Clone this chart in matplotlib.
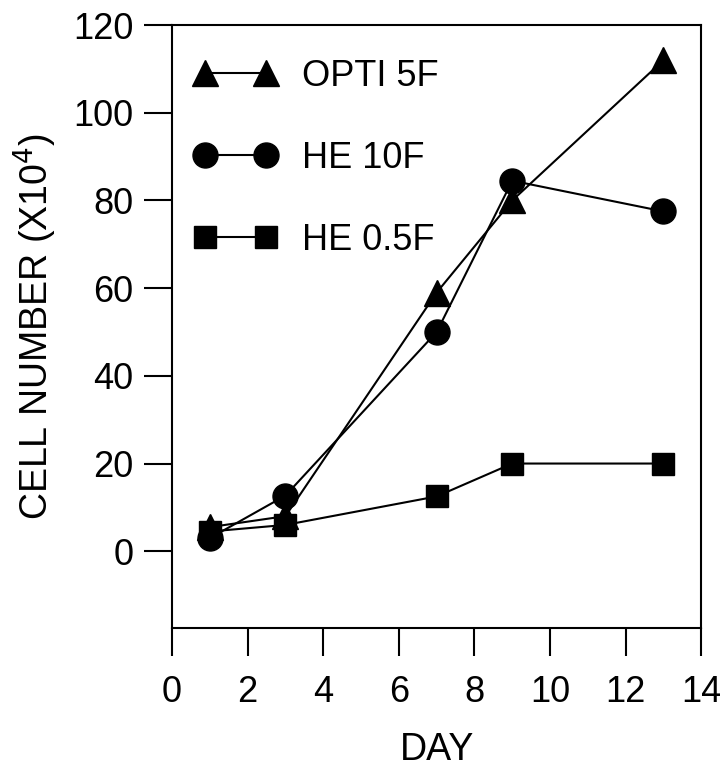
import matplotlib
matplotlib.use("Agg")
import matplotlib.pyplot as plt

days = [1, 3, 7, 9, 13]
opti_5f = [5.5, 8, 59, 80, 112]
he_10f = [3, 12.7, 50, 84.5, 77.5]
he_05f = [4.5, 6, 12.5, 20, 20]
labels = ["OPTI 5F", "HE 10F", "HE 0.5F"]
xticks = [0, 2, 4, 6, 8, 10, 12, 14]
yticks = [0, 20, 40, 60, 80, 100, 120]

plt.rcParams['font.family'] = ['Liberation Sans', 'DejaVu Sans']

fig = plt.figure(figsize=(7.2, 7.69), dpi=100)
ax = fig.add_axes([0.239, 0.1834, 0.735, 0.784])

lw = 1.5
ax.plot(days, opti_5f, marker='^', label=labels[0], color='black', lw=lw, markersize=19)
ax.plot(days, he_10f, marker='o', label=labels[1], color='black', lw=lw, markersize=18)
ax.plot(days, he_05f, marker='s', label=labels[2], color='black', lw=lw, markersize=16)

ax.set_xlim(0, 14)
ax.set_ylim(-17.5, 120)
ax.set_xticks(xticks)
ax.set_yticks(yticks)
ax.tick_params(direction='out', length=20, width=1.5, labelsize=26, pad=14)
ax.tick_params(axis='y', pad=8)
for s in ax.spines.values():
    s.set_linewidth(1.5)

ax.set_xlabel("DAY", fontsize=27, labelpad=16)
ax.set_ylabel("CELL NUMBER (X10$^4$)", fontsize=27, labelpad=10)

leg = ax.legend(loc='upper left', frameon=False, fontsize=26, numpoints=2,
                handlelength=2.3, labelspacing=1.3, handletextpad=0.7,
                borderaxespad=0.2, bbox_to_anchor=(0.0, 0.98))

fig.savefig("out.png", dpi=100)
